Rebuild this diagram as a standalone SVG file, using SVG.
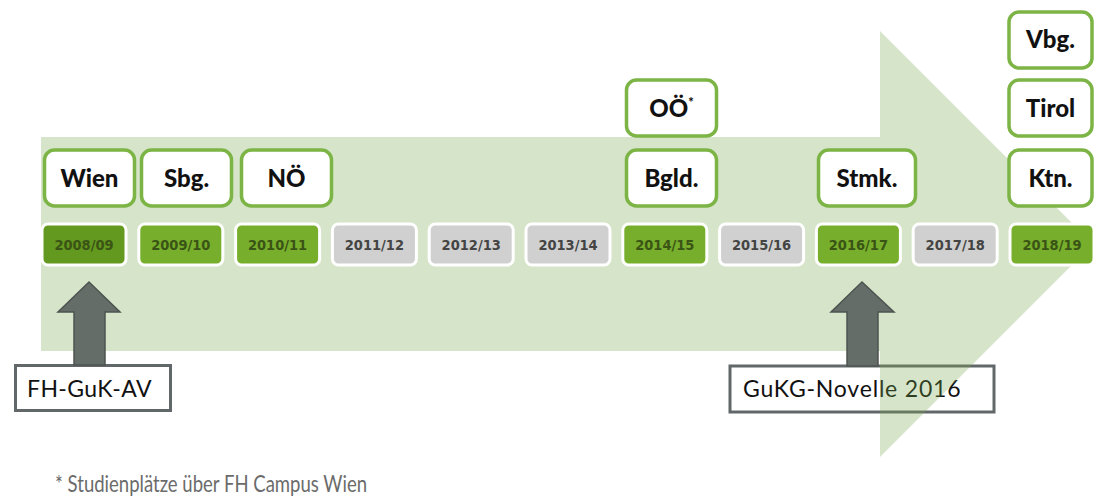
<svg xmlns="http://www.w3.org/2000/svg" width="1094" height="502" viewBox="0 0 1094 502">
  <style>
    .year rect { stroke: #ffffff; stroke-width: 3; }
    .year text { font-family: "DejaVu Sans Condensed", "DejaVu Sans", sans-serif; font-weight: bold; font-size: 14.5px; text-anchor: middle; }
    .yg rect { fill: #77ae2b; }
    .yg text { fill: #3a5416; }
    .yd rect { fill: #64991f; }
    .yx rect { fill: #d0d0d0; }
    .yx text { fill: #444444; }
    .state rect { fill: #ffffff; stroke: #7db446; stroke-width: 3.5; }
    .state text { font-family: Lato, "Liberation Sans", sans-serif; font-weight: 900; font-size: 24px; fill: #111111; text-anchor: middle; }
    .note rect { fill: #ffffff; stroke: #62686a; stroke-width: 3; }
    .note text { font-family: Lato, "Liberation Sans", sans-serif; font-size: 23px; fill: #111111; }
    .push { fill: #646d67; stroke: #4d5450; stroke-width: 1.5; }
    .foot { font-family: Lato, "Open Sans", sans-serif; font-size: 23px; fill: #6b6b6b; }
  </style>

  <!-- legal change label lying beneath the big timeline arrow -->
  <g id="novelle" class="note">
    <rect x="730" y="366" width="264" height="46"/>
    <text x="743" y="397" letter-spacing="0.8">GuKG-Novelle 2016</text>
  </g>

  <!-- big translucent timeline arrow -->
  <polygon id="timeline" points="41,137 880,137 880,31 1093,244 880,457 880,351 41,351" fill="rgb(120,170,80)" fill-opacity="0.3"/>

  <g id="fhgukav" class="note">
    <rect x="15.5" y="365.5" width="155" height="45"/>
    <text x="27" y="397" letter-spacing="0.4">FH-GuK-AV</text>
  </g>

  <!-- pointer arrows -->
  <g id="connectors">
    <polygon class="push" points="89,282 120,312 105,312 105,365 74,365 74,312 58,312"/>
    <polygon class="push" points="862,282 894,312 878,312 878,366 847,366 847,312 831,312"/>
  </g>

  <!-- academic years -->
  <g id="y2008" class="year yg yd"><rect x="42" y="224" width="84" height="41" rx="6"/><text x="84" y="250">2008/09</text></g>
  <g id="y2009" class="year yg"><rect x="138.8" y="224" width="84" height="41" rx="6"/><text x="180.8" y="250">2009/10</text></g>
  <g id="y2010" class="year yg"><rect x="235.6" y="224" width="84" height="41" rx="6"/><text x="277.6" y="250">2010/11</text></g>
  <g id="y2011" class="year yx"><rect x="332.4" y="224" width="84" height="41" rx="6"/><text x="374.4" y="250">2011/12</text></g>
  <g id="y2012" class="year yx"><rect x="429.2" y="224" width="84" height="41" rx="6"/><text x="471.2" y="250">2012/13</text></g>
  <g id="y2013" class="year yx"><rect x="526" y="224" width="84" height="41" rx="6"/><text x="568" y="250">2013/14</text></g>
  <g id="y2014" class="year yg"><rect x="622.8" y="224" width="84" height="41" rx="6"/><text x="664.8" y="250">2014/15</text></g>
  <g id="y2015" class="year yx"><rect x="719.6" y="224" width="84" height="41" rx="6"/><text x="761.6" y="250">2015/16</text></g>
  <g id="y2016" class="year yg"><rect x="816.4" y="224" width="84" height="41" rx="6"/><text x="858.4" y="250">2016/17</text></g>
  <g id="y2017" class="year yx"><rect x="913.2" y="224" width="84" height="41" rx="6"/><text x="955.2" y="250">2017/18</text></g>
  <g id="y2018" class="year yg"><rect x="1010" y="224" width="84" height="41" rx="6"/><text x="1052" y="250">2018/19</text></g>

  <!-- federal states -->
  <g id="wien" class="state"><rect x="44.5" y="150" width="90" height="56" rx="10"/><text x="89.5" y="187">Wien</text></g>
  <g id="sbg" class="state"><rect x="141.5" y="150" width="90" height="56" rx="10"/><text x="186.5" y="187">Sbg.</text></g>
  <g id="noe" class="state"><rect x="241.5" y="150" width="90" height="56" rx="10"/><text x="286.5" y="187">NÖ</text></g>
  <g id="bgld" class="state"><rect x="626.5" y="150" width="90" height="56" rx="10"/><text x="671.5" y="187">Bgld.</text></g>
  <g id="ooe" class="state"><rect x="626.5" y="80" width="90" height="56" rx="10"/><text x="671.5" y="117">OÖ<tspan font-size="13px" dy="-10">*</tspan></text></g>
  <g id="stmk" class="state"><rect x="818.5" y="150" width="97" height="56" rx="10"/><text x="867" y="187">Stmk.</text></g>
  <g id="ktn" class="state"><rect x="1009" y="150" width="83" height="56" rx="10"/><text x="1050.5" y="187">Ktn.</text></g>
  <g id="tirol" class="state"><rect x="1009" y="80" width="83" height="56" rx="10"/><text x="1050.5" y="117">Tirol</text></g>
  <g id="vbg" class="state"><rect x="1009" y="12" width="83" height="56" rx="10"/><text x="1050.5" y="48">Vbg.</text></g>

  <text class="foot" x="55" y="492" textLength="312" lengthAdjust="spacingAndGlyphs">* Studienplätze über FH Campus Wien</text>
</svg>
